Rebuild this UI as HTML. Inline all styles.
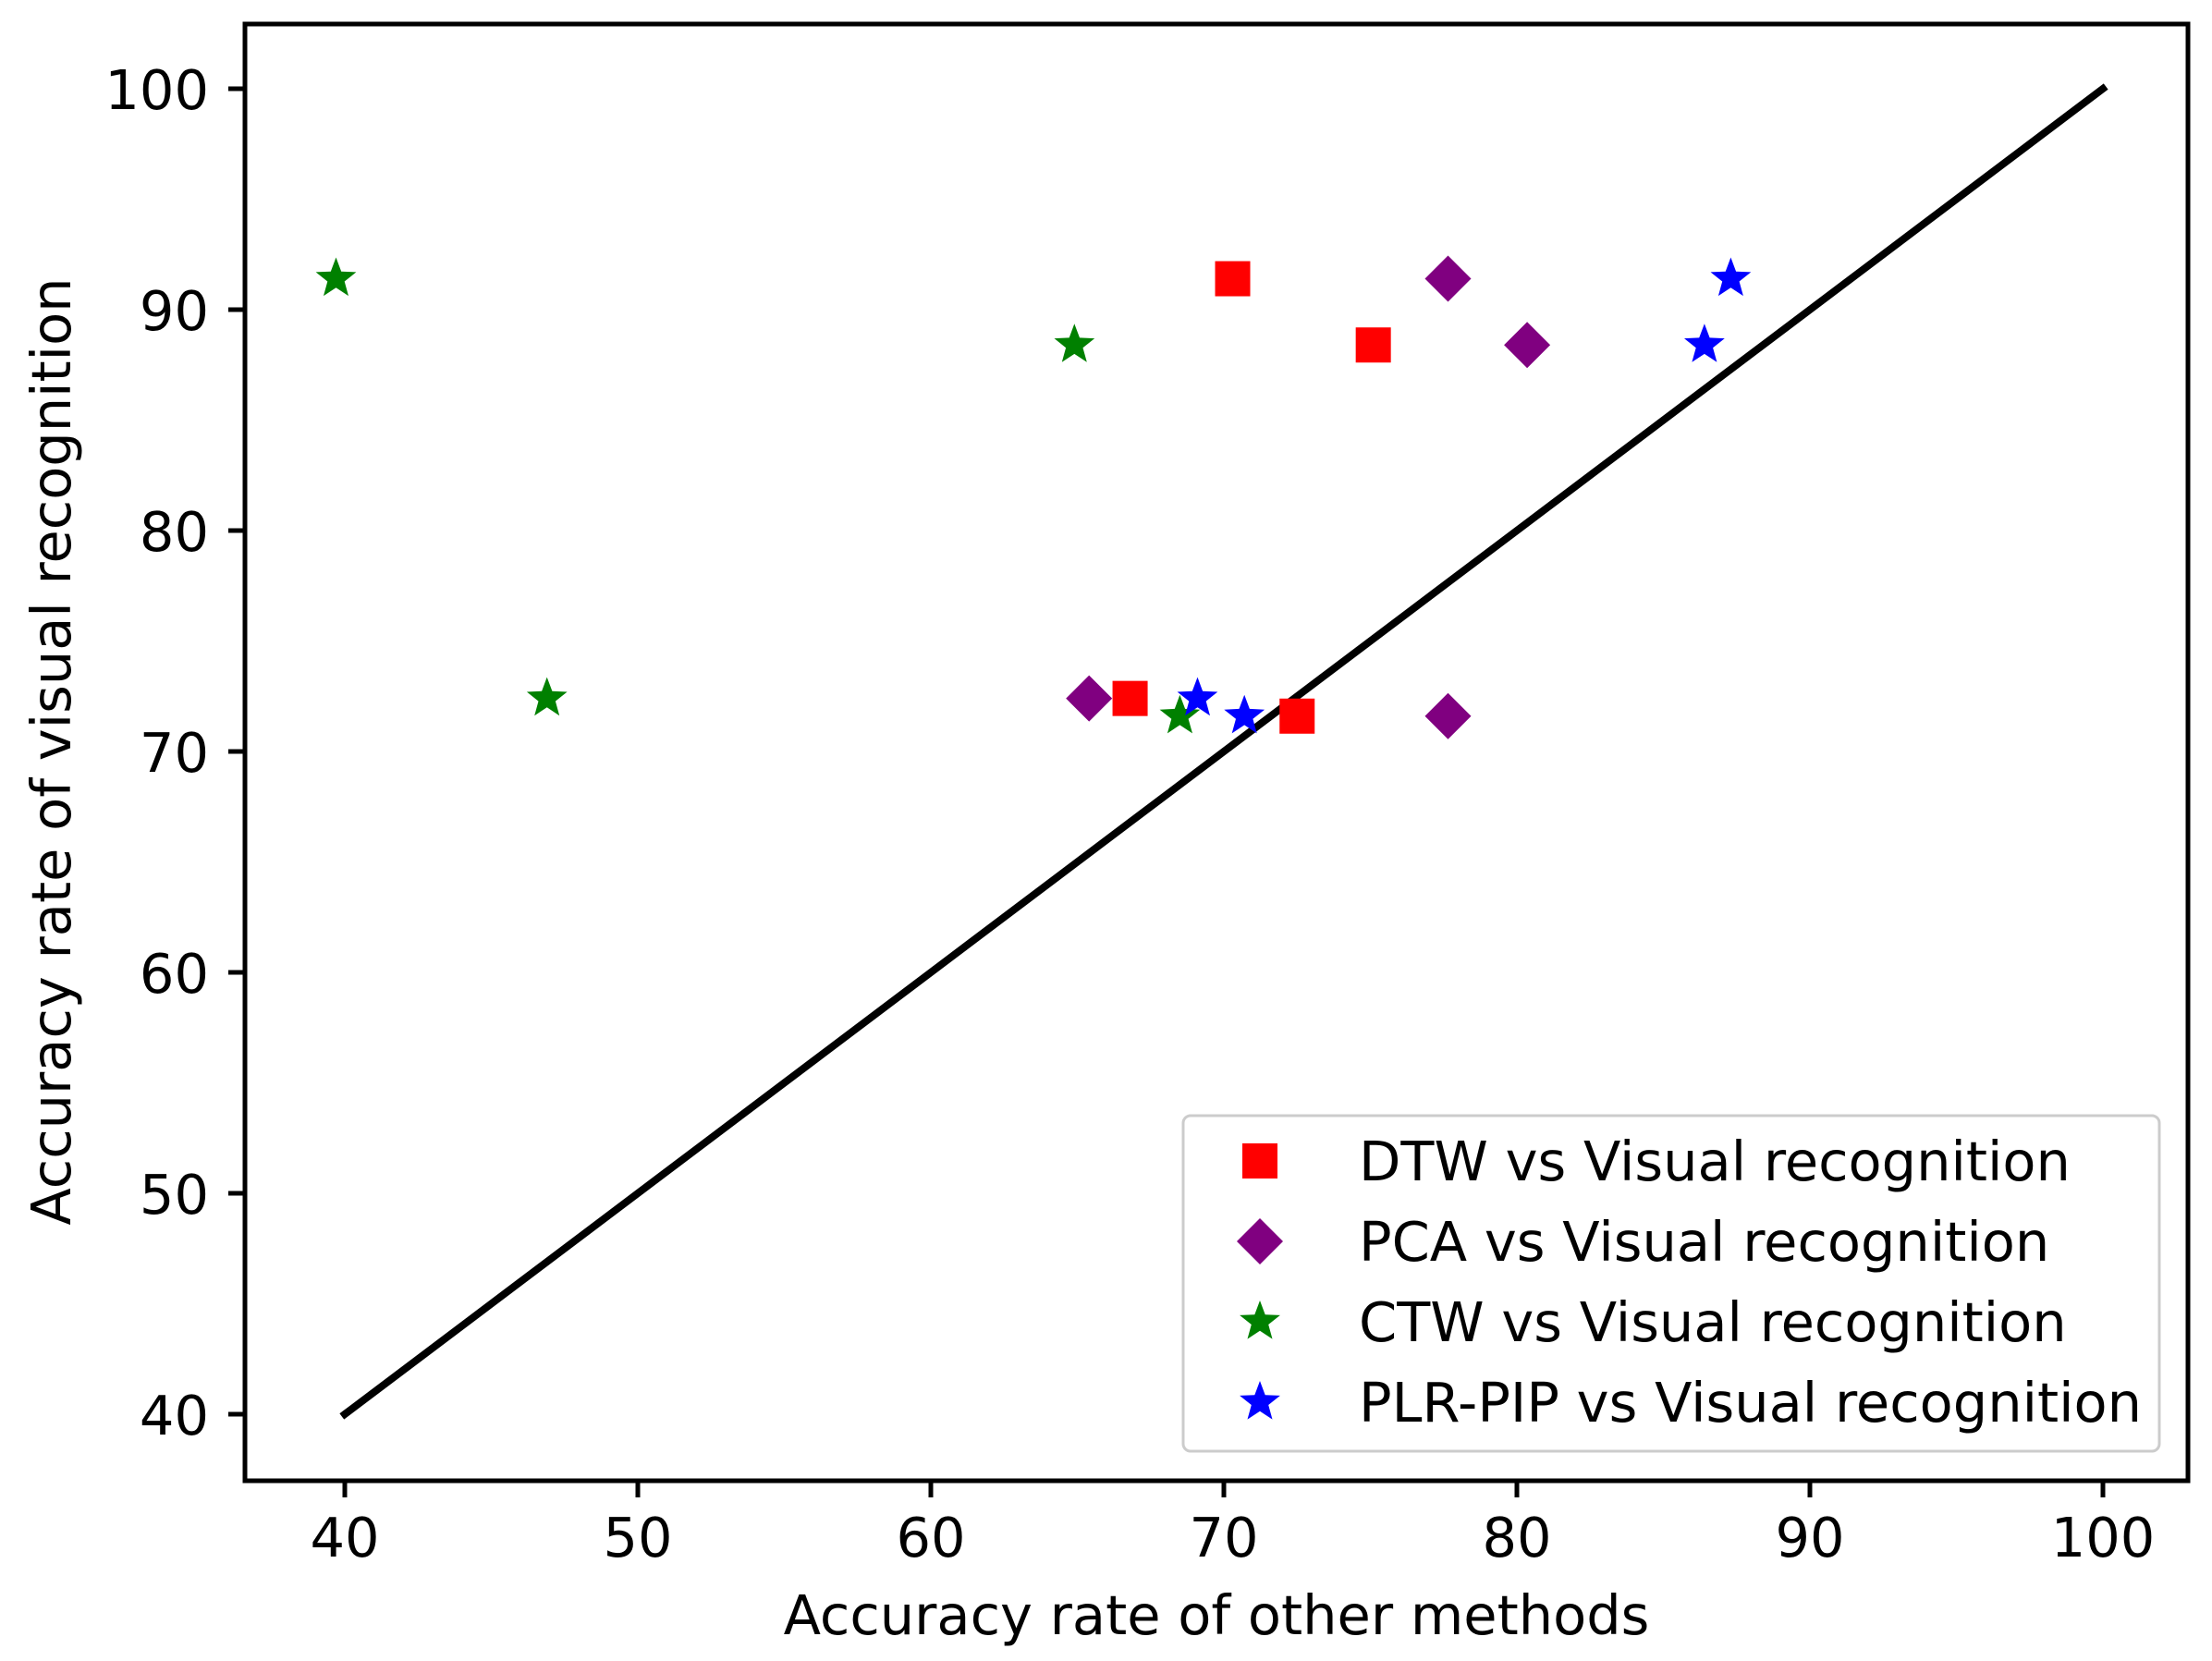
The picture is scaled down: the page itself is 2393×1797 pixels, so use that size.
<!DOCTYPE html>
<html><head><meta charset="utf-8"><style>
html,body{margin:0;padding:0;background:#fff}
svg{display:block;font-family:"DejaVu Sans","Liberation Sans",sans-serif}
</style></head><body>
<svg id="chart" width="2393" height="1797" viewBox="0 0 2393 1797">
<rect width="2393" height="1797" fill="#fff"/>
<g id="plot"></g>
</svg>
<script>
const xTicks=[40,50,60,70,80,90,100];
const yTicks=[40,50,60,70,80,90,100];
const dtwX=[70.3,75.1,66.8,72.5];
const dtwY=[91.4,88.4,72.4,71.6];
const pcaX=[77.65,80.35,65.4,77.65];
const pcaY=[91.4,88.4,72.4,71.6];
const ctwX=[39.7,64.9,46.9,68.5];
const ctwY=[91.4,88.4,72.4,71.6];
const plrX=[87.3,86.4,69.1,70.7];
const plrY=[91.4,88.4,72.4,71.6];
const legendLabels=["DTW vs Visual recognition","PCA vs Visual recognition","CTW vs Visual recognition","PLR-PIP vs Visual recognition"];

const NS="http://www.w3.org/2000/svg";
const L=265,R=2367,T=26,B=1602;
const FS=59;
const sx=v=>373+(v-40)*31.7;
const sy=v=>1530-(v-40)*23.9;
const g=document.getElementById('plot');
function mk(tag,attrs,parent){const e=document.createElementNS(NS,tag);for(const k in attrs)e.setAttribute(k,attrs[k]);(parent||g).appendChild(e);return e;}

let ln=mk('line',{x1:sx(40),y1:sy(40),x2:sx(100),y2:sy(100),stroke:'#000','stroke-width':8,'stroke-linecap':'square'});



function starPath(cx,cy,r){let p='';for(let i=0;i<10;i++){const rr=i%2?r*0.42:r;const a=-Math.PI/2+i*Math.PI/5;p+=(i?'L':'M')+(cx+rr*Math.cos(a)).toFixed(1)+','+(cy+rr*Math.sin(a)).toFixed(1);}return p+'Z';}
function marker(type,cx,cy,color,parent){
  if(type==='square')return mk('rect',{x:cx-19,y:cy-19,width:38,height:38,fill:color},parent);
  if(type==='diamond')return mk('path',{d:`M${cx},${cy-25}L${cx+25},${cy}L${cx},${cy+25}L${cx-25},${cy}Z`,fill:color},parent);
  return mk('path',{d:starPath(cx,cy,23),fill:color},parent);
}
const series=[[dtwX,dtwY,'square','#ff0000','dtw'],[pcaX,pcaY,'diamond','#800080','pca'],[ctwX,ctwY,'star','#008000','ctw'],[plrX,plrY,'star','#0000ff','plr-pip']];
series.forEach(s=>{s[0].forEach((x,i)=>{const m=marker(s[2],sx(x),sy(s[1][i]),s[3]);

});});

let fr=mk('rect',{x:L,y:T,width:R-L,height:B-T,fill:'none',stroke:'#000','stroke-width':5});



xTicks.forEach(v=>{
  let t=mk('line',{x1:sx(v),y1:B,x2:sx(v),y2:B+18,stroke:'#000','stroke-width':5});
  
  
  let tx=mk('text',{x:sx(v),y:1684,'font-size':FS,'text-anchor':'middle',fill:'#000'});tx.textContent=v;
  
  
});
yTicks.forEach(v=>{
  let t=mk('line',{x1:L-18,y1:sy(v),x2:L,y2:sy(v),stroke:'#000','stroke-width':5});
  
  
  let tx=mk('text',{x:226,y:sy(v)+22,'font-size':FS,'text-anchor':'end',fill:'#000'});tx.textContent=v;
  
  
});
let xl=mk('text',{x:1316,y:1768,'font-size':FS,'text-anchor':'middle',fill:'#000'});xl.textContent='Accuracy rate of other methods';


let yl=mk('text',{x:0,y:0,'font-size':FS,'text-anchor':'middle',fill:'#000',transform:'translate(76,813) rotate(-90)'});yl.textContent='Accuracy rate of visual recognition';



const lg=mk('g',{});


mk('rect',{x:1280,y:1207,width:1056,height:363,rx:8,fill:'#fff',stroke:'#ccc','stroke-width':3},lg);
legendLabels.forEach((lab,i)=>{
  const y=1256+i*87;
  const s=series[i];
  const m=marker(s[2],1363,y,s[3],lg);
  
  
  const t=mk('text',{x:1470,y:y+21,'font-size':FS,fill:'#000'},lg);t.textContent=lab;
  
  
});
</script>
</body></html>
